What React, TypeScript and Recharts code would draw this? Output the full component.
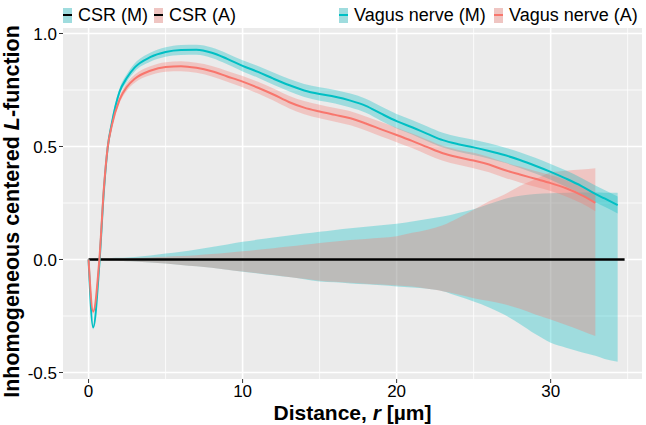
import React from 'react';
import { ComposedChart, Area, Line, XAxis, YAxis, CartesianGrid } from 'recharts';

// distance r [µm]
const R = [0, 0.3, 0.7, 1, 1.25, 1.5, 2, 2.5, 3, 4, 5, 6, 7, 8, 9, 10, 11, 12, 13, 14, 15, 16, 17, 18, 19, 20,
  21, 22, 23, 24, 25, 26, 27, 28, 29, 30, 31, 32, 32.9, 33.5, 34.35, 34.8];

// Vagus nerve (M) / (A) centered L-function and half-width of their bands
const vagusM = [0, -0.30, -0.02, 0.31, 0.5, 0.6, 0.74, 0.805, 0.85, 0.895, 0.918, 0.927, 0.928, 0.915, 0.888, 0.857,
  0.83, 0.80, 0.772, 0.748, 0.732, 0.72, 0.703, 0.68, 0.645, 0.612, 0.585, 0.556, 0.528, 0.51, 0.496, 0.48, 0.462,
  0.44, 0.415, 0.388, 0.358, 0.325, 0.29, 0.27, 0.241, null];
const vagusMWidth = [0, 0.01, 0.01, 0.015, 0.015, 0.015, 0.015, 0.017, 0.018, 0.02, 0.021, 0.022, 0.022, 0.023, 0.024,
  0.025, 0.026, 0.027, 0.028, 0.029, 0.03, 0.03, 0.031, 0.031, 0.032, 0.032, 0.032, 0.033, 0.033, 0.033, 0.034, 0.034,
  0.034, 0.035, 0.035, 0.035, 0.036, 0.036, 0.037, 0.037, 0.038, null];
const vagusA = [0, -0.23, 0.0, 0.32, 0.5, 0.59, 0.705, 0.765, 0.80, 0.835, 0.852, 0.855, 0.848, 0.833, 0.81, 0.787,
  0.76, 0.73, 0.697, 0.672, 0.655, 0.64, 0.625, 0.602, 0.576, 0.551, 0.525, 0.497, 0.47, 0.452, 0.438, 0.42, 0.396,
  0.376, 0.357, 0.338, 0.315, 0.285, 0.251, null, null, null];
const vagusAWidth = [0, 0.01, 0.01, 0.015, 0.015, 0.015, 0.015, 0.017, 0.018, 0.02, 0.021, 0.022, 0.022, 0.023, 0.024,
  0.025, 0.026, 0.027, 0.028, 0.029, 0.03, 0.03, 0.031, 0.031, 0.032, 0.032, 0.032, 0.033, 0.033, 0.033, 0.034, 0.034,
  0.034, 0.035, 0.035, 0.035, 0.036, 0.036, 0.037, null, null, null];

// CSR envelopes
const csrMHigh = [0, 0.004, 0.005, 0.006, 0.006, 0.007, 0.008, 0.009, 0.011, 0.018, 0.026, 0.034, 0.044, 0.055, 0.066,
  0.078, 0.088, 0.097, 0.106, 0.115, 0.123, 0.131, 0.138, 0.145, 0.151, 0.158, 0.168, 0.179, 0.19, 0.206, 0.222,
  0.245, 0.268, 0.282, 0.29, 0.293, 0.295, 0.296, 0.296, 0.295, 0.295, null];
const csrMLow = [0, -0.004, -0.005, -0.005, -0.006, -0.006, -0.007, -0.008, -0.009, -0.013, -0.018, -0.024, -0.03,
  -0.037, -0.045, -0.054, -0.062, -0.07, -0.078, -0.087, -0.097, -0.101, -0.106, -0.11, -0.114, -0.119, -0.124, -0.13,
  -0.14, -0.163, -0.186, -0.212, -0.245, -0.285, -0.33, -0.368, -0.39, -0.41, -0.426, -0.44, -0.452, null];
const csrAHigh = [0, 0.004, 0.004, 0.005, 0.005, 0.005, 0.006, 0.006, 0.007, 0.009, 0.012, 0.015, 0.019, 0.024, 0.03,
  0.036, 0.043, 0.05, 0.057, 0.065, 0.073, 0.08, 0.086, 0.091, 0.096, 0.103, 0.118, 0.132, 0.152, 0.184, 0.22, 0.258,
  0.288, 0.325, 0.355, 0.385, 0.393, 0.398, 0.404, null, null, null];
const csrALow = [0, -0.004, -0.005, -0.005, -0.006, -0.006, -0.007, -0.008, -0.009, -0.013, -0.018, -0.024, -0.03,
  -0.037, -0.045, -0.053, -0.061, -0.069, -0.077, -0.085, -0.094, -0.099, -0.103, -0.107, -0.111, -0.115, -0.12,
  -0.13, -0.14, -0.155, -0.171, -0.184, -0.198, -0.218, -0.243, -0.266, -0.29, -0.315, -0.339, null, null, null];

// CSR (theoretical) line
const csrR = [0, 34.8];
const csrValue = [0, 0];

const xTicks = [0, 10, 20, 30];
const xMinor = [5, 15, 25, 35];
const yTicks = [-0.5, 0, 0.5, 1];
const yMinor = [-0.25, 0.25, 0.75];

const CYAN = '#00BFC4';
const PINK = '#F8766D';
const FONT = '"Liberation Sans", Arial, Helvetica, sans-serif';

const band = (mid: number | null, w: number | null) =>
  mid == null || w == null ? null : [mid - w, mid + w];
const pair = (lo: number | null, hi: number | null) => (lo == null || hi == null ? null : [lo, hi]);

const rows = R.map((r, i) => ({
  r,
  vm: vagusM[i],
  va: vagusA[i],
  vmBand: band(vagusM[i], vagusMWidth[i]),
  vaBand: band(vagusA[i], vagusAWidth[i]),
  mEnv: pair(csrMLow[i], csrMHigh[i]),
  aEnv: pair(csrALow[i], csrAHigh[i]),
}));

const csrRows = csrR.map((r, i) => ({ r, csr: csrValue[i] }));

const legendItems = [
  { label: 'CSR (M)', fill: CYAN, dash: '#000', left: 63 },
  { label: 'CSR (A)', fill: PINK, dash: '#000', left: 154 },
  { label: 'Vagus nerve (M)', fill: CYAN, dash: CYAN, left: 339 },
  { label: 'Vagus nerve (A)', fill: PINK, dash: PINK, left: 494 },
];

const App: React.FC = () => {
  return (
    <div style={{ position: 'relative', width: 646, height: 425, fontFamily: FONT }}>
      <style>{'body{margin:0}'}</style>
      <ComposedChart width={646} height={425} data={rows} margin={{ top: 28, right: 4, bottom: 16, left: 0 }}>
        <CartesianGrid fill="#EBEBEB" stroke="#fff" strokeWidth={0.8} horizontalValues={yMinor} verticalValues={xMinor} />
        <CartesianGrid stroke="#fff" strokeWidth={1.6} horizontalValues={yTicks} verticalValues={xTicks} />
        <XAxis
          type="number"
          dataKey="r"
          domain={[-1.66, 35.93]}
          allowDataOverflow
          ticks={xTicks}
          height={30}
          axisLine={false}
          tickSize={4}
          tickLine={{ stroke: '#333' }}
          tick={{ fontSize: 17, fill: '#000' }}
        />
        <YAxis
          type="number"
          domain={[-0.5288, 1.0243]}
          allowDataOverflow
          ticks={yTicks}
          width={63}
          axisLine={false}
          tickSize={4}
          tickLine={{ stroke: '#333' }}
          tick={{ fontSize: 17, fill: '#000' }}
          tickFormatter={(v: number) => v.toFixed(1)}
        />
        <Area type="monotone" dataKey="mEnv" fill={CYAN} fillOpacity={0.32} stroke="none" isAnimationActive={false} activeDot={false} />
        <Area type="monotone" dataKey="aEnv" fill={PINK} fillOpacity={0.32} stroke="none" isAnimationActive={false} activeDot={false} />
        <Area type="monotone" dataKey="vmBand" fill={CYAN} fillOpacity={0.32} stroke="none" isAnimationActive={false} activeDot={false} />
        <Area type="monotone" dataKey="vaBand" fill={PINK} fillOpacity={0.32} stroke="none" isAnimationActive={false} activeDot={false} />
        <Line data={csrRows} type="linear" dataKey="csr" stroke="#000" strokeWidth={2.5} dot={false} isAnimationActive={false} />
        <Line type="monotone" dataKey="vm" stroke={CYAN} strokeWidth={2} dot={false} isAnimationActive={false} />
        <Line type="monotone" dataKey="va" stroke={PINK} strokeWidth={2} dot={false} isAnimationActive={false} />
      </ComposedChart>

      <svg width={646} height={425} style={{ position: 'absolute', left: 0, top: 0, pointerEvents: 'none' }}>
        <text x={352.5} y={420} textAnchor="middle" fontSize={21} fontWeight="bold" fill="#000" fontFamily={FONT}>
          Distance, <tspan fontStyle="italic">r</tspan> [µm]
        </text>
        <text
          transform="translate(19, 211.5) rotate(-90)"
          textAnchor="middle"
          fontSize={21.5}
          fontWeight="bold"
          fill="#000"
          fontFamily={FONT}
        >
          Inhomogeneous centered  <tspan fontStyle="italic">L</tspan>-function
        </text>
      </svg>

      {legendItems.map((it) => (
        <div
          key={it.label}
          style={{ position: 'absolute', left: it.left, top: 4, height: 22, display: 'flex', alignItems: 'center' }}
        >
          <div style={{ position: 'relative', width: 9, height: 15, background: it.fill }}>
            <div style={{ position: 'absolute', inset: 0, background: '#EBEBEB', opacity: 0.68 }} />
            <div style={{ position: 'absolute', left: 0, right: 0, top: 6.5, height: 2, background: it.dash }} />
          </div>
          <span style={{ marginLeft: 6, fontSize: 18, color: '#000', whiteSpace: 'nowrap' }}>{it.label}</span>
        </div>
      ))}
    </div>
  );
};

export default App;
